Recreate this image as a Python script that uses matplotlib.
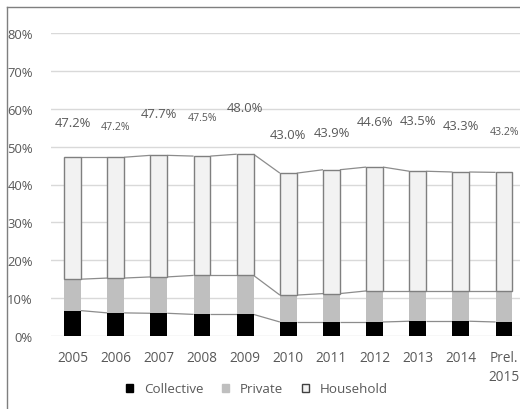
import matplotlib
matplotlib.use("Agg")
import matplotlib.pyplot as plt
from matplotlib.lines import Line2D
from matplotlib.patches import Patch
import numpy as np

plt.rcParams['font.family'] = ['Open Sans', 'DejaVu Sans']

categories = ["2005", "2006", "2007", "2008", "2009", "2010", "2011", "2012", "2013", "2014", "Prel.\n2015"]
collective = [6.7, 6.1, 6.0, 5.7, 5.7, 3.7, 3.7, 3.7, 3.9, 3.9, 3.7]
private = [8.3, 9.2, 9.6, 10.3, 10.3, 7.1, 7.5, 8.2, 8.0, 8.0, 8.2]
totals = [47.2, 47.2, 47.7, 47.5, 48.0, 43.0, 43.9, 44.6, 43.5, 43.3, 43.2]
total_labels = ["47.2%", "47.2%", "47.7%", "47.5%", "48.0%", "43.0%", "43.9%", "44.6%", "43.5%", "43.3%", "43.2%"]

# label placement / style (manual text boxes in the original)
label_y = [56.5, 55.3, 58.8, 57.6, 60.4, 53.3, 53.8, 56.7, 57.0, 55.5, 54.1]
label_size = [9.4, 7.6, 9.4, 7.6, 9.4, 9.4, 9.4, 9.4, 9.4, 9.4, 7.6]

collective = np.array(collective)
private = np.array(private)
totals = np.array(totals)
household = totals - collective - private

W, H = 520, 410
fig = plt.figure(figsize=(W / 100, H / 100), dpi=100)
ax_left, ax_right = 51, 525.6
ax_bottom, ax_top = 337, 34
ax = fig.add_axes([ax_left / W, (H - ax_bottom) / H, (ax_right - ax_left) / W, (ax_bottom - ax_top) / H])

x = np.arange(len(categories))
bw = 0.39
text_col = "#595959"
line_col = "#8c8c8c"

ax.bar(x, collective, bw, color="black", zorder=3)
ax.bar(x, private, bw, bottom=collective, color="#bfbfbf", zorder=3)
ax.bar(x, household, bw, bottom=collective + private, color="#f2f2f2",
       edgecolor="#7f7f7f", linewidth=1.0, zorder=3)

# series lines between bars
for levels in (collective, collective + private, totals):
    for i in range(len(x) - 1):
        ax.plot([x[i] + bw / 2, x[i + 1] - bw / 2], [levels[i], levels[i + 1]],
                color=line_col, lw=0.9, zorder=2, solid_capstyle="butt")

for i in range(len(x)):
    ax.text(x[i], label_y[i], total_labels[i], ha="center", va="center",
            fontsize=label_size[i], color=text_col, zorder=4)

ax.set_xlim(-0.5, len(x) - 0.5)
ax.set_ylim(0, 80)
ax.set_yticks(np.arange(0, 81, 10))
ax.set_yticklabels([f"{v}%" for v in range(0, 81, 10)])
ax.set_xticks(x)
ax.set_xticklabels(categories, linespacing=1.35)
ax.grid(axis="y", color="#d9d9d9", lw=1.0, zorder=0)
ax.set_axisbelow(True)
for s in ax.spines.values():
    s.set_visible(False)
ax.tick_params(axis="both", length=0, colors=text_col, labelsize=9.4)
ax.tick_params(axis="x", labelsize=9.8, pad=10)
ax.tick_params(axis="y", pad=13)

handles = [
    Patch(facecolor="black", edgecolor="black"),
    Patch(facecolor="#bfbfbf", edgecolor="#bfbfbf"),
    Patch(facecolor="#f2f2f2", edgecolor="#404040", linewidth=1.0),
]
fig.legend(handles, ["Collective", "Private", "Household"], loc="center",
           bbox_to_anchor=(257 / W, (H - 390) / H), ncol=3, frameon=False,
           fontsize=9.6, labelcolor=text_col, handlelength=0.55, handleheight=0.55,
           handletextpad=0.8, columnspacing=1.4)

# outer chart border (cropped on right/bottom)
fig.add_artist(Line2D([7 / W, 7 / W], [0, (H - 8) / H], color="#7f7f7f", lw=1.0, transform=fig.transFigure))
fig.add_artist(Line2D([7 / W, 1], [(H - 8) / H, (H - 8) / H], color="#7f7f7f", lw=1.0, transform=fig.transFigure))

fig.savefig("out.png", dpi=100, facecolor="white")
